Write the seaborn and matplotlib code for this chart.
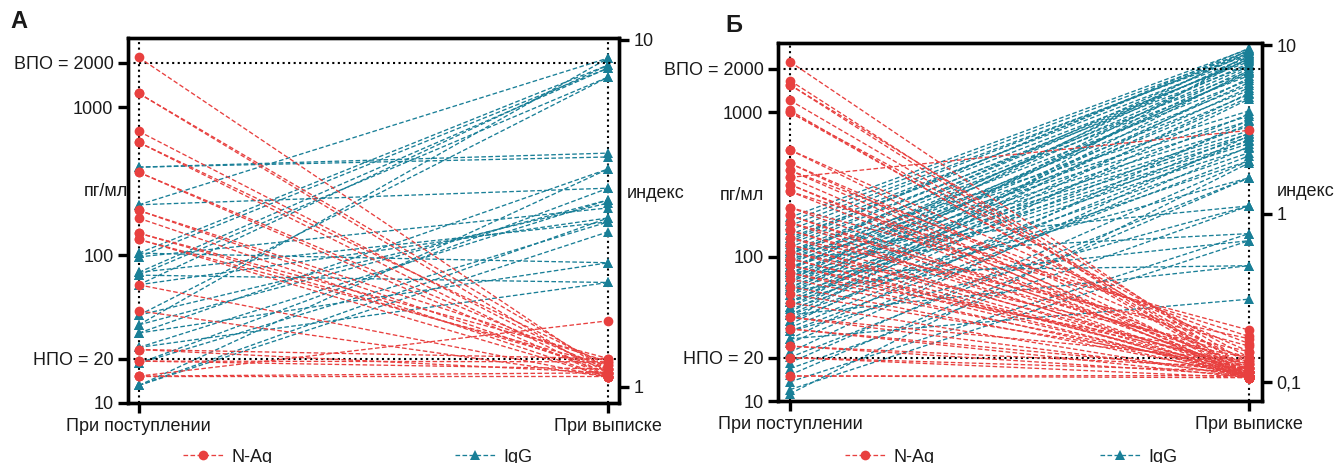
import numpy as np
import pandas as pd
import seaborn as sns
import matplotlib.pyplot as plt
from matplotlib.lines import Line2D
from matplotlib.ticker import NullLocator

RED = '#E8403F'
TEAL = '#197F97'

timepoints = ['При поступлении', 'При выписке']

# panel A: N-Ag, pg/ml (admission -> discharge)
a_nag_in = [2180, 1245, 1245, 689, 580, 580, 364, 364, 201, 201, 178, 141, 141,
            128, 128, 63, 42, 23, 23, 19.2, 19.2, 15.2, 15.2, 15.2]
a_nag_out = [16, 17, 15, 16, 18, 15, 15, 17, 16, 19, 15, 17, 20,
             15, 18, 15, 15, 20, 16, 17, 19, 15.2, 36, 16]
# panel A: IgG, index
a_igg_in = [4.3, 4.3, 3.35, 3.35, 2.43, 2.43, 2.37, 2.37, 2.14, 2.14, 2.10, 2.10,
            1.97, 1.97, 1.61, 1.61, 1.51, 1.51, 1.43, 1.43, 1.30, 1.30, 1.17, 1.17,
            1.01, 1.01, 1.01]
a_igg_out = [4.6, 4.72, 8.87, 3.74, 8.47, 2.28, 8.3, 3.28, 8.3, 2.99, 7.82, 2.0,
             8.47, 3.07, 7.82, 3.39, 8.87, 3.46, 4.25, 2.28, 3.46, 2.0, 3.74, 2.99,
             2.80, 3.07, 4.25]

# panel B: N-Ag, pg/ml
b_nag_in = [2240, 1660, 1550, 1550, 1210, 1030, 1000, 1000, 549, 549, 443, 443,
            396, 396, 354, 354, 316, 316, 283, 283, 219, 219, 193, 193, 172, 172,
            152, 152, 135, 135, 121, 121, 108, 108, 97, 97, 87, 87, 77, 77, 70, 62,
            55, 48, 38, 38, 31.6, 31.6, 24, 24, 20, 20, 14.9, 14.9]
b_nag_out = [16, 15, 18, 14.5, 17, 15, 20, 16, 15, 22, 14.5, 19,
             16, 25, 750, 15, 17, 14.5, 28, 15, 16, 31, 15, 18, 14.5, 24,
             16, 20, 15, 27, 17, 14.5, 15, 22, 16, 14.5, 18, 15, 14.5, 20, 16, 15,
             17, 14.5, 15, 19, 16, 14.5, 15, 17, 14.5, 16, 14.5, 15]
# panel B: IgG, index
b_igg_in = [0.95, 0.90, 0.85, 0.80, 0.75, 0.72, 0.70, 0.66, 0.63, 0.60, 0.58, 0.55,
            0.53, 0.50, 0.48, 0.46, 0.44, 0.42, 0.40, 0.38, 0.36, 0.35, 0.33, 0.31,
            0.30, 0.28, 0.26, 0.25, 0.23, 0.22, 0.68, 0.57, 0.47, 0.39,
            0.60, 0.55, 0.52, 0.48, 0.45, 0.42, 0.40, 0.37, 0.35, 0.33, 0.30, 0.28,
            0.27, 0.25, 0.23, 0.21, 0.20, 0.18, 0.17, 0.15, 0.14, 0.13,
            0.12, 0.11, 0.10, 0.09, 0.45, 0.25, 0.18, 0.55, 0.35, 0.60, 0.20, 0.30,
            0.085]
b_igg_out = [9.5, 9.2, 8.8, 9.0, 8.5, 8.0, 9.3, 7.6, 8.2, 7.0, 6.6, 9.0,
             6.2, 7.8, 5.8, 8.6, 5.4, 6.8, 9.4, 5.1, 7.3, 6.0, 8.4, 5.6,
             4.9, 7.1, 6.4, 5.2, 8.9, 4.8, 9.6, 8.3, 7.5, 6.9,
             4.07, 3.8, 3.55, 3.3, 3.1, 2.97, 2.85, 2.70, 2.6, 2.46, 3.9, 3.4,
             2.3, 2.06, 3.0, 2.75, 2.2, 3.6, 2.5, 2.9, 1.63, 2.06,
             1.11, 1.63, 0.76, 0.69, 0.49, 0.49, 0.31, 0.76, 0.69, 1.11, 1.11, 1.63,
             2.0]


def long_form(v_in, v_out):
    n = len(v_in)
    return pd.DataFrame({'id': list(range(n)) * 2,
                         't': [0] * n + [1] * n,
                         'value': list(v_in) + list(v_out)})


sns.set_style('white')
plt.rcParams['font.family'] = ['Liberation Sans', 'DejaVu Sans']
plt.rcParams['text.color'] = '#1a1a1a'
plt.rcParams['axes.labelcolor'] = '#1a1a1a'
fig = plt.figure(figsize=(13.38, 4.63), dpi=100)

FS = 13
DASH = (0, (3.5, 1.8))


def draw_panel(rect, nag_in, nag_out, igg_in, igg_out, ylim_l, ylim_r,
               rticks, rlabels, xlim, lab_l, lab_r):
    ax = fig.add_axes(rect)
    ax2 = ax.twinx()
    ax.set_yscale('log')
    ax2.set_yscale('log')

    ax2.axvline(0, color='black', ls=':', lw=1.5, zorder=1)
    ax2.axvline(1, color='black', ls=':', lw=1.5, zorder=1)
    sns.lineplot(data=long_form(igg_in, igg_out), x='t', y='value', units='id',
                 estimator=None, ax=ax2, color=TEAL, lw=0.95, linestyle=DASH,
                 marker='^', markersize=7, markeredgecolor=TEAL,
                 markeredgewidth=0, legend=False)

    ax.axhline(2000, color='black', ls=':', lw=1.5, zorder=1)
    ax.axhline(20, color='black', ls=':', lw=1.5, zorder=1)
    sns.lineplot(data=long_form(nag_in, nag_out), x='t', y='value', units='id',
                 estimator=None, ax=ax, color=RED, lw=0.95, linestyle=DASH,
                 marker='o', markersize=7, markeredgecolor=RED,
                 markeredgewidth=0, legend=False)

    ax.set_zorder(ax2.get_zorder() + 1)
    ax.patch.set_visible(False)

    ax.set_xlim(*xlim)
    ax.set_ylim(*ylim_l)
    ax2.set_ylim(*ylim_r)
    ax.set_xticks([0, 1])
    ax.set_xticklabels(timepoints)
    ax.set_yticks([10, 20, 100, 1000, 2000])
    ax.set_yticklabels(['10', 'НПО = 20', '100', '1000', 'ВПО = 2000'])
    ax2.set_yticks(rticks)
    ax2.set_yticklabels(rlabels)
    for a in (ax, ax2):
        a.yaxis.set_minor_locator(NullLocator())
        for s in a.spines.values():
            s.set_linewidth(2.4)
            s.set_color('black')
    ax.tick_params(axis='both', length=7, width=2.4, labelsize=FS,
                   color='black', labelcolor='#1a1a1a', left=True, bottom=True,
                   direction='out')
    ax2.tick_params(axis='y', length=7, width=2.4, labelsize=FS,
                    color='black', labelcolor='#1a1a1a', right=True, direction='out')

    ax.set_xlabel('')
    ax.set_ylabel('пг/мл', rotation=0, fontsize=FS, ha='center', va='center')
    ax.yaxis.set_label_coords(*lab_l)
    ax2.set_ylabel('индекс', rotation=0, fontsize=FS, ha='center', va='center')
    ax2.yaxis.set_label_coords(*lab_r)
    return ax


draw_panel([0.0957, 0.1296, 0.3670, 0.7883], a_nag_in, a_nag_out, a_igg_in, a_igg_out,
           (10, 2950), (0.899, 10.13), [1, 10], ['1', '10'], (-0.023, 1.023),
           (-0.046, 0.58), (1.075, 0.575))
draw_panel([0.5815, 0.1339, 0.3617, 0.7732], b_nag_in, b_nag_out, b_igg_in, b_igg_out,
           (10, 3020), (0.077, 10.3), [0.1, 1, 10], ['0,1', '1', '10'], (-0.026, 1.028),
           (-0.074, 0.575), (1.091, 0.584))

fig.text(10 / 1338, 1 - 22 / 463, 'А', fontsize=17, fontweight='bold', va='center')
fig.text(725 / 1338, 1 - 25 / 463, 'Б', fontsize=17, fontweight='bold', va='center')

h_nag = Line2D([], [], color=RED, ls=DASH, lw=0.95, marker='o', ms=7, mew=0)
h_igg = Line2D([], [], color=TEAL, ls=DASH, lw=0.95, marker='^', ms=7, mew=0)
for x0, h, lab in [(183, h_nag, 'N-Ag'), (455, h_igg, 'IgG'),
                   (845, h_nag, 'N-Ag'), (1100, h_igg, 'IgG')]:
    fig.legend(handles=[h], labels=[lab], loc='center left', frameon=False,
               bbox_to_anchor=(x0 / 1338, 1 - 457 / 463), fontsize=FS,
               borderpad=0, borderaxespad=0, handlelength=2.2, handletextpad=0.5)

fig.savefig('out.png', dpi=100)
